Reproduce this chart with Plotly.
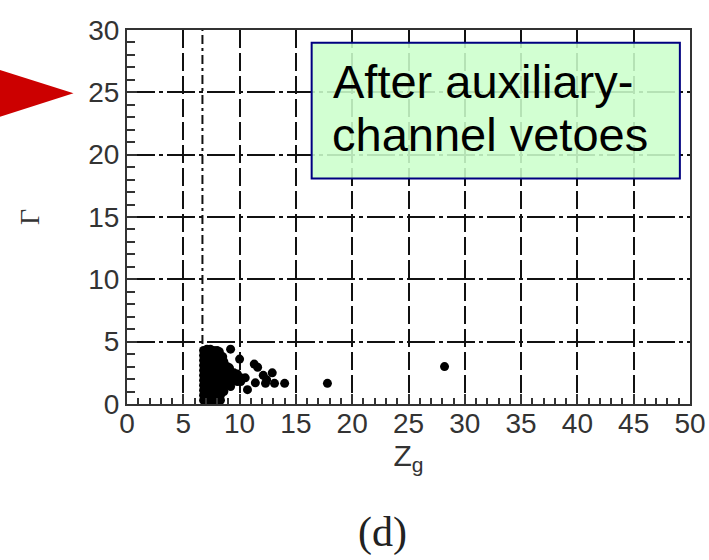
import plotly.graph_objects as go

# Event population after the auxiliary-channel vetoes: the dense group just
# above the Z_g threshold and the sparser events to its right.
cluster_zg = [
    6.8, 7.1, 7.4, 7.7, 8.0, 8.2,
    6.8, 7.1, 7.4, 7.7, 8.0, 8.3, 8.5,
    6.8, 7.1, 7.4, 7.7, 8.0, 8.3, 8.6,
    6.8, 7.1, 7.4, 7.7, 8.0, 8.3, 8.6, 8.9, 9.1,
    6.8, 7.1, 7.4, 7.7, 8.0, 8.3, 8.6, 8.9, 9.2, 9.5, 9.8,
    6.8, 7.1, 7.4, 7.7, 8.0, 8.3, 8.6, 8.9, 9.2, 9.5, 9.8, 10.1, 10.5,
    6.8, 7.1, 7.4, 7.7, 8.0, 8.3, 8.6, 8.9, 9.2, 9.5, 9.8, 10.1,
    6.8, 7.1, 7.4, 7.7, 8.0, 8.3, 8.6, 8.9, 9.2,
    6.8, 7.1, 7.4, 7.7, 8.0, 8.3, 8.6,
    6.8, 7.1, 7.4, 7.7, 8.0, 8.3,
    6.8, 7.1, 7.4, 7.7, 8.0, 8.3,
]
cluster_gamma = [
    4.3, 4.4, 4.4, 4.3, 4.3, 4.2,
    3.9, 3.9, 3.9, 3.9, 3.9, 3.9, 3.8,
    3.5, 3.5, 3.5, 3.5, 3.5, 3.5, 3.4,
    3.1, 3.1, 3.1, 3.1, 3.1, 3.1, 3.1, 3.0, 2.9,
    2.7, 2.7, 2.7, 2.7, 2.7, 2.7, 2.7, 2.7, 2.6, 2.5, 2.4,
    2.3, 2.3, 2.3, 2.3, 2.3, 2.3, 2.3, 2.3, 2.3, 2.2, 2.2, 2.1, 2.1,
    1.9, 1.9, 1.9, 1.9, 1.9, 1.9, 1.9, 1.9, 1.9, 1.9, 1.8, 1.8,
    1.5, 1.5, 1.5, 1.5, 1.5, 1.5, 1.5, 1.5, 1.4,
    1.1, 1.1, 1.1, 1.1, 1.1, 1.1, 1.0,
    0.7, 0.7, 0.7, 0.7, 0.7, 0.7,
    0.3, 0.3, 0.3, 0.3, 0.3, 0.3,
]
outlier_zg = [9.2, 10.0, 11.3, 11.6, 12.1, 12.9, 12.4, 11.4, 12.3, 13.1, 14.0, 10.7, 17.8, 28.2]
outlier_gamma = [4.4, 3.6, 3.2, 2.95, 2.3, 2.5, 1.95, 1.7, 1.66, 1.66, 1.66, 1.15, 1.66, 3.0]

zg_threshold = 6.7
x_ticks = [0, 5, 10, 15, 20, 25, 30, 35, 40, 45, 50]
y_ticks = [0, 5, 10, 15, 20, 25, 30]

W, H = 709, 560
L, R, T, B = 127, 19, 30, 156
PW, PH = W - L - R, H - T - B


def paper(px, py):
    """Pixel position on the page -> paper coordinates."""
    return (px - L) / PW, (H - B - py) / PH


fig = go.Figure()
fig.add_trace(go.Scatter(
    x=cluster_zg + outlier_zg, y=cluster_gamma + outlier_gamma,
    mode="markers", marker=dict(color="black", size=9, line=dict(width=0)),
    showlegend=False, hoverinfo="skip",
))

axis_common = dict(
    showline=True, linewidth=2, linecolor="#333", mirror=True,
    ticks="inside", ticklen=10, tickwidth=2, tickcolor="#333",
    showgrid=True, gridcolor="#111", gridwidth=2,
    zeroline=False,
    tickfont=dict(family="Liberation Sans", size=28, color="#333"),
)
fig.update_xaxes(
    range=[0, 50], tickvals=x_ticks, griddash="18px,5px",
    ticklabelstandoff=-7,
    minor=dict(dtick=1, tick0=0, ticks="inside", ticklen=6, tickwidth=1.5,
               tickcolor="#333", showgrid=False),
    title=dict(text="Z<sub>g</sub>", standoff=2,
               font=dict(family="Liberation Sans", size=30, color="#333")),
    **axis_common,
)
fig.update_yaxes(
    range=[0, 30], tickvals=y_ticks, griddash="28px,4px,4px,4px",
    minor=dict(dtick=1, tick0=0, ticks="inside", ticklen=8, tickwidth=1.5,
               tickcolor="#333", showgrid=False),
    title=dict(text="Γ", standoff=40,
               font=dict(family="Liberation Serif", size=28, color="#333")),
    **axis_common,
)

# Z_g threshold line
fig.add_shape(type="line", xref="x", yref="y", x0=zg_threshold, x1=zg_threshold,
              y0=0, y1=30, line=dict(color="#111", width=2, dash="9px,4px,3px,4px"),
              layer="below")

# Label box
fig.add_shape(type="rect", xref="x", yref="y", x0=16.4, x1=49.1, y0=18.08, y1=28.98,
              fillcolor="rgba(204,255,204,0.88)", line=dict(color="#000080", width=2),
              layer="above")
box_font = dict(family="Liberation Sans", size=47, color="black")
fig.add_annotation(x=18.1, y=25.9, xref="x", yref="y", text="After auxiliary-",
                   showarrow=False, xanchor="left", yanchor="middle", font=box_font)
fig.add_annotation(x=18.0, y=21.6, xref="x", yref="y", text="channel vetoes",
                   showarrow=False, xanchor="left", yanchor="middle", font=box_font)

# Red pointer on the left margin
p1, p2, p3 = paper(0, 70), paper(73.5, 93.3), paper(0, 116.7)
fig.add_shape(type="path", xref="paper", yref="paper",
              path=f"M {p1[0]},{p1[1]} L {p2[0]},{p2[1]} L {p3[0]},{p3[1]} Z",
              fillcolor="#cc0000", line=dict(width=0))

# Panel label
dx, dy = paper(382, 532)
fig.add_annotation(x=dx, y=dy, xref="paper", yref="paper", text="(d)",
                   showarrow=False, xanchor="center", yanchor="middle",
                   font=dict(family="Liberation Serif", size=42, color="#222"))

fig.update_layout(
    width=W, height=H, margin=dict(l=L, r=R, t=T, b=B, autoexpand=False),
    paper_bgcolor="white", plot_bgcolor="white",
)
fig.write_html("out.html")
